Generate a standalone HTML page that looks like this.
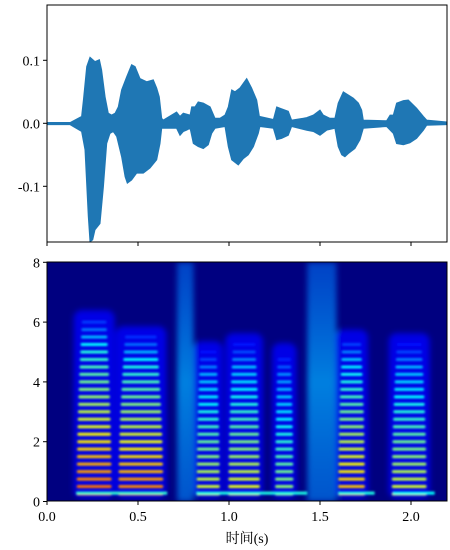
<!DOCTYPE html>
<html><head><meta charset="utf-8">
<style>
html,body{margin:0;padding:0;background:#fff;}
svg{display:block;font-family:"Liberation Serif","Noto Serif CJK SC",serif;}
</style></head>
<body>
<svg id="fig" width="450" height="550" viewBox="0 0 450 550">
<defs>
<clipPath id="clipTop"><rect x="47" y="5" width="400" height="237"/></clipPath>
<clipPath id="clipBot"><rect x="47" y="262" width="400" height="239"/></clipPath>
<filter id="blur" x="-10%" y="-10%" width="120%" height="120%"><feGaussianBlur stdDeviation="1"/></filter>
<filter id="blur2"><feGaussianBlur stdDeviation="3"/></filter>
<linearGradient id="noiseGrad" x1="0" y1="0" x2="0" y2="1">
<stop offset="0" stop-color="rgb(0,120,255)" stop-opacity="0.55"/>
<stop offset="0.5" stop-color="rgb(0,170,255)" stop-opacity="0.75"/>
<stop offset="1" stop-color="rgb(0,140,255)" stop-opacity="0.6"/>
</linearGradient>
</defs>
<g id="topPlot"></g>
<g id="botPlot"></g>
</svg>
<script>
// ---- waveform data (seconds, amplitude) ----
const upperT=[0,0.126,0.145,0.19,0.2,0.218,0.236,0.264,0.288,0.3,0.319,0.337,0.355,0.374,0.392,0.41,0.438,0.465,0.484,0.511,0.548,0.584,0.603,0.617,0.63,0.639,0.712,0.731,0.749,0.786,0.795,0.813,0.831,0.859,0.896,0.923,0.95,0.978,0.996,1.015,1.033,1.06,1.097,1.124,1.152,1.167,1.244,1.262,1.28,1.326,1.344,1.408,1.427,1.463,1.5,1.518,1.555,1.582,1.6,1.628,1.656,1.683,1.711,1.729,1.738,1.866,1.885,1.903,1.921,1.958,1.985,2.031,2.068,2.086,2.198];
const upperA=[0.001,0.001,0.004,0.011,0.037,0.09,0.105,0.098,0.101,0.085,0.042,0.016,0.013,0.016,0.026,0.053,0.074,0.093,0.09,0.071,0.066,0.069,0.056,0.042,0.008,0.005,0.018,0.011,0.016,0.013,0.026,0.026,0.034,0.032,0.026,0.008,0.008,0.013,0.026,0.053,0.05,0.056,0.071,0.056,0.037,0.011,0.006,0.026,0.024,0.019,0.005,0.008,0.009,0.013,0.021,0.013,0.008,0.008,0.032,0.05,0.045,0.04,0.032,0.021,0.005,0.004,0.013,0.013,0.032,0.036,0.037,0.024,0.011,0.005,0.002];
const lowerT=[0,0.126,0.19,0.209,0.227,0.236,0.251,0.264,0.291,0.31,0.328,0.346,0.364,0.383,0.41,0.429,0.441,0.465,0.493,0.529,0.566,0.603,0.621,0.63,0.712,0.731,0.749,0.767,0.786,0.804,0.831,0.859,0.886,0.905,0.923,0.978,0.996,1.015,1.051,1.079,1.106,1.134,1.161,1.17,1.244,1.262,1.289,1.326,1.344,1.427,1.463,1.5,1.537,1.582,1.6,1.619,1.637,1.656,1.692,1.72,1.738,1.866,1.903,1.921,1.958,1.994,2.031,2.068,2.086,2.198];
const lowerA=[0.002,0.002,0.013,0.042,0.148,0.188,0.185,0.169,0.159,0.101,0.032,0.016,0.013,0.021,0.053,0.085,0.095,0.09,0.079,0.079,0.071,0.058,0.032,0.008,0.008,0.019,0.013,0.011,0.008,0.032,0.037,0.04,0.034,0.016,0.008,0.005,0.037,0.058,0.066,0.056,0.05,0.037,0.016,0.005,0.008,0.026,0.024,0.019,0.005,0.011,0.013,0.019,0.011,0.008,0.037,0.05,0.053,0.048,0.04,0.026,0.008,0.005,0.016,0.032,0.034,0.031,0.024,0.011,0.003,0.002];
const ampTicks=[0.1,0.0,-0.1];
const ampTickLabels=["0.1","0.0","-0.1"];
const timeTicks=[0,0.5,1.0,1.5,2.0];
const timeTickLabels=["0.0","0.5","1.0","1.5","2.0"];
const freqTicks=[0,2,4,6,8];
const freqTickLabels=["0","2","4","6","8"];
// ---- spectrogram voiced syllables ----
const sylStart=[0.163,0.392,0.822,0.996,1.253,1.600,1.894];
const sylEnd=[0.355,0.639,0.950,1.170,1.354,1.747,2.086];
const sylTop=[6.1,5.56,5.06,5.33,5.0,5.45,5.33];
const sylPeak=[0.8,0.78,0.62,0.64,0.55,0.72,0.62];
const harmonicSpacing=0.25;
// low-frequency bars
const lowStart=[0.16,0.82,1.60,1.90];
const lowEnd=[0.66,1.43,1.80,2.13];
const lowLevel=[0.42,0.4,0.4,0.38];
// noise segments (fricatives)
const noiseStart=[0.715,1.430];
const noiseEnd=[0.805,1.590];
const noiseTop=[8,8];

const NS="http://www.w3.org/2000/svg";
const xs=t=>47+t*182;
const ya=a=>123.3-a*630;
const yf=f=>501.5-f*29.9;
function mk(tag,attrs,parent){const e=document.createElementNS(NS,tag);for(const k in attrs)e.setAttribute(k,attrs[k]);parent.appendChild(e);return e;}
function jet(v){v=Math.max(0,Math.min(1,v));const c=x=>Math.round(255*Math.max(0,Math.min(1,1.5-Math.abs(4*v-x))));return `rgb(${c(3)},${c(2)},${c(1)})`;}

const topG=document.getElementById('topPlot');
const botG=document.getElementById('botPlot');

// waveform
const wg=mk('g',{'clip-path':'url(#clipTop)'},topG);
let pts=[];
for(let i=0;i<upperT.length;i++)pts.push(xs(upperT[i]).toFixed(1)+','+ya(upperA[i]).toFixed(1));
for(let i=lowerT.length-1;i>=0;i--)pts.push(xs(lowerT[i]).toFixed(1)+','+ya(-lowerA[i]).toFixed(1));
const wf=mk('polygon',{points:pts.join(' '),fill:'#1f77b4',stroke:'#1f77b4','stroke-width':'1'},wg);


const bl=mk('line',{x1:xs(0),x2:xs(2.198),y1:ya(0),y2:ya(0),stroke:'#1f77b4','stroke-width':'2.5'},wg);



// spectrogram
mk('rect',{x:47,y:262,width:400,height:239,fill:jet(0)},botG);
const sg=mk('g',{'clip-path':'url(#clipBot)'},botG);
const sgn=mk('g',{filter:'url(#blur2)'},sg);
const sgh=mk('g',{filter:'url(#blur)'},sg);
for(let i=0;i<noiseStart.length;i++){
  const r=mk('rect',{x:xs(noiseStart[i]),y:yf(noiseTop[i]),width:xs(noiseEnd[i])-xs(noiseStart[i]),height:yf(0)-yf(noiseTop[i]),fill:'url(#noiseGrad)'},sgn);
  
  
}
for(let i=0;i<sylStart.length;i++){
  const w=xs(sylEnd[i])-xs(sylStart[i]);
  mk('rect',{x:xs(sylStart[i])-3,y:yf(sylTop[i]+0.3),width:w+6,height:yf(0.1)-yf(sylTop[i]+0.3),rx:8,fill:jet(0.1)},sgn);
  for(let k=1;k*harmonicSpacing<sylTop[i];k++){
    const f=k*harmonicSpacing, r=f/sylTop[i];
    let v=sylPeak[i]*(1-0.6*r);
    if(r>0.85)v*=(1-r)/0.15*0.5+0.5;
    const inset=w*0.15*r*r;
    const h=mk('rect',{x:xs(sylStart[i])+inset,y:yf(f)-1.5,width:w-2*inset,height:3,rx:1.5,fill:jet(v)},sgh);
    
    
  }
}
for(let i=0;i<lowStart.length;i++){
  const b=mk('rect',{x:xs(lowStart[i]),y:yf(0.28)-1.5,width:xs(lowEnd[i])-xs(lowStart[i]),height:3,fill:jet(lowLevel[i])},sgh);
  
  
}

// axes frames
const f1=mk('rect',{x:47,y:5,width:400,height:237,fill:'none',stroke:'#000','stroke-width':1},topG);


const f2=mk('rect',{x:47,y:262,width:400,height:239,fill:'none',stroke:'#000','stroke-width':1},botG);



// ticks
for(let i=0;i<ampTicks.length;i++){
  const y=ya(ampTicks[i]);
  mk('line',{x1:43,x2:47,y1:y,y2:y,stroke:'#000'},topG);
  const t=mk('text',{x:40,y:y+5,'text-anchor':'end','font-size':14},topG);
  t.textContent=ampTickLabels[i];
  
  
}
for(let i=0;i<timeTicks.length;i++){
  const x=xs(timeTicks[i]);
  mk('line',{x1:x,x2:x,y1:242,y2:246,stroke:'#000'},topG);
  mk('line',{x1:x,x2:x,y1:501,y2:505,stroke:'#000'},botG);
  const t=mk('text',{x:x,y:521,'text-anchor':'middle','font-size':14},botG);
  t.textContent=timeTickLabels[i];
  
  
}
for(let i=0;i<freqTicks.length;i++){
  const y=yf(freqTicks[i]);
  mk('line',{x1:43,x2:47,y1:y,y2:y,stroke:'#000'},botG);
  const t=mk('text',{x:40,y:y+5,'text-anchor':'end','font-size':14},botG);
  t.textContent=freqTickLabels[i];
  
  
}
const xl=mk('text',{x:247,y:543,'text-anchor':'middle','font-size':14},botG);
xl.textContent='时间(s)';


</script>
</body></html>
